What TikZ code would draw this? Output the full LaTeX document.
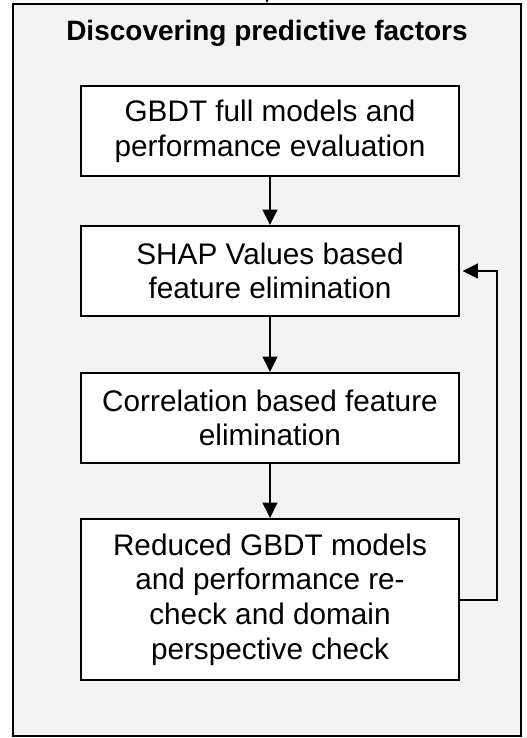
\documentclass[tikz,border=0pt]{standalone}
\usepackage{fontspec}
\setmainfont{Liberation Sans}
\usetikzlibrary{arrows.meta,positioning}
\definecolor{panelgray}{HTML}{F2F2F2}

\begin{document}
\begin{tikzpicture}[x=0.75pt,y=-0.75pt,
stage/.style={
    draw,
    rectangle,
    fill=white,
    line width=1.4pt,
    align=center,
    minimum width=283.5pt,
    minimum height=67.5pt,
    inner sep=0pt,
    font=\fontsize{22.3}{26}\selectfont
},
flow/.style={line width=1.5pt, -{Triangle[length=11.5pt,width=11pt]}},
every node/.style={font=\fontsize{21}{26}\selectfont}
]
\useasboundingbox (0,0) rectangle (527,738);
\clip (0,0) rectangle (527,738);

% panel and heading
\node[draw, fill=panelgray, line width=1.6pt, minimum width=381pt,
    minimum height=549pt, inner sep=0pt] (panel) at (267,370) {};
\node[font=\fontsize{21}{26}\selectfont\bfseries] (heading) at (267,33)
    {Discovering predictive factors};

\node[stage] (fullmodel) at (270,131) {GBDT full models and\\performance evaluation};
\node[stage] (shapelim) at (270,271) {SHAP Values based\\feature elimination};
\node[stage] (correlim) at (270,418) {Correlation based feature\\elimination};
\node[stage, minimum height=120.75pt] (recheck) at (270,599.5)
    {Reduced GBDT models\\and performance re-\\check and domain\\perspective check};

% incoming from above
\coordinate (entry) at (267,-40);
\draw[flow] (entry) -- (panel.north);

% main sequence
\draw[flow] (fullmodel) -- (shapelim);
\draw[flow] (shapelim) -- (correlim);
\draw[flow] (correlim) -- (recheck);

% loop back to SHAP elimination
\draw[flow, shorten >=2pt] (recheck.east) -- ++(37,0) |- (shapelim.east);

\end{tikzpicture}
\end{document}
